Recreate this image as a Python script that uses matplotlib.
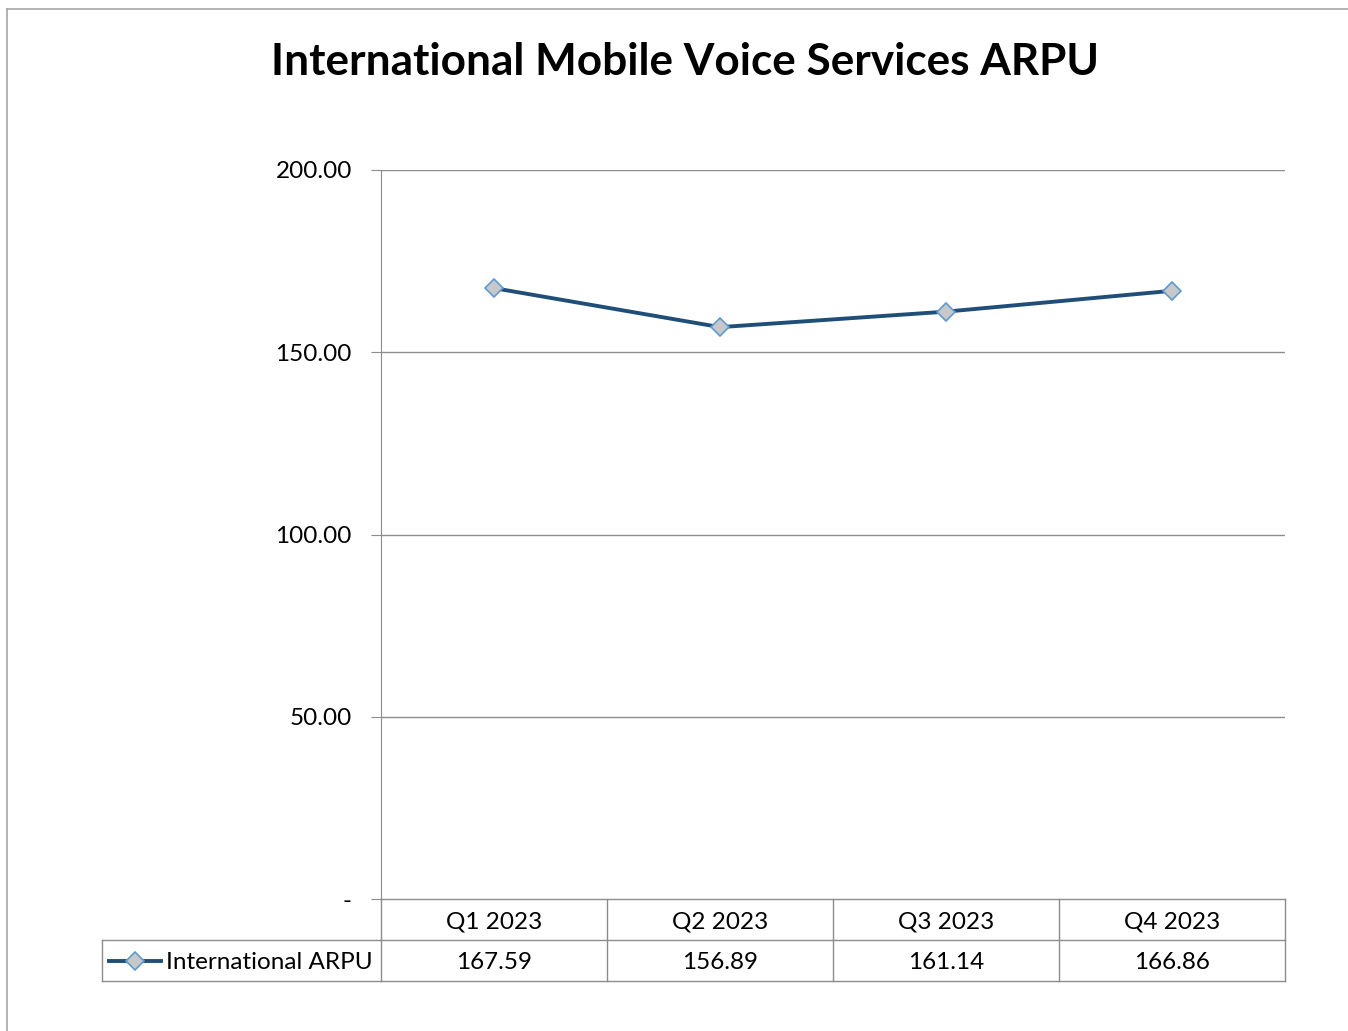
import matplotlib.pyplot as plt
from matplotlib.lines import Line2D

plt.rcParams['font.family'] = ['Lato', 'DejaVu Sans']

quarters = ['Q1 2023', 'Q2 2023', 'Q3 2023', 'Q4 2023']
arpu = [167.59, 156.89, 161.14, 166.86]
series_name = 'International ARPU'
y_ticks = [0, 50, 100, 150, 200]
y_labels = ['-', '50.00', '100.00', '150.00', '200.00']

W, H = 1348, 1031
fig = plt.figure(figsize=(W / 100, H / 100), dpi=100)

grid_col = '#8c8c8c'
line_col = '#1f4e79'
fs = 17.5

# outer chart border (top and left visible)
fig.add_artist(Line2D([7 / W, 7 / W], [0, 1 - 9 / H], color='#a6a6a6', lw=1.2, transform=fig.transFigure))
fig.add_artist(Line2D([7 / W, 1], [1 - 9 / H, 1 - 9 / H], color='#a6a6a6', lw=1.2, transform=fig.transFigure))

x0, x1, ytop, ybot = 381, 1285, 170, 899
ax = fig.add_axes([x0 / W, 1 - ybot / H, (x1 - x0) / W, (ybot - ytop) / H])

xs = list(range(len(quarters)))
ax.plot(xs, arpu, color=line_col, lw=2.8, marker='D', ms=9,
        mfc='#c8c8c8', mec='#5b9bd5', mew=1.2, zorder=3)

ax.set_xlim(-0.5, len(quarters) - 0.5)
ax.set_ylim(0, 200)
ax.set_yticks(y_ticks)
ax.set_yticklabels(y_labels, fontsize=fs)
ax.set_xticks([])
for t in y_ticks[1:]:
    ax.axhline(t, color=grid_col, lw=1, zorder=1)
for s in ['top', 'right', 'bottom']:
    ax.spines[s].set_visible(False)
ax.spines['left'].set_color(grid_col)
ax.tick_params(axis='y', length=7, color=grid_col, pad=14)

# data table under the plot
ph = ybot - ytop
row_h = 41 / ph
shift = 2 / ph  # nudge text slightly down in cells
tr = ax.get_xaxis_transform()
leg_left = (102 - x0) / (x1 - x0)
tra = ax.transAxes
kw = dict(color=grid_col, lw=1, clip_on=False)
n = len(quarters)
ax.plot([-0.5, n - 0.5], [0, 0], transform=tr, **kw)
ax.plot([-0.5, n - 0.5], [-row_h, -row_h], transform=tr, **kw)
ax.plot([-0.5, n - 0.5], [-2 * row_h, -2 * row_h], transform=tr, **kw)
ax.plot([leg_left, 0], [-row_h, -row_h], transform=tra, **kw)
ax.plot([leg_left, 0], [-2 * row_h, -2 * row_h], transform=tra, **kw)
ax.plot([leg_left, leg_left], [-row_h, -2 * row_h], transform=tra, **kw)
for k in range(n + 1):
    ax.plot([k - 0.5, k - 0.5], [0, -2 * row_h], transform=tr, **kw)

for i, (q, v) in enumerate(zip(quarters, arpu)):
    ax.text(i, -0.5 * row_h - shift, q, transform=tr, ha='center', va='center', fontsize=fs)
    ax.text(i, -1.5 * row_h - shift, f'{v:.2f}', transform=tr, ha='center', va='center', fontsize=fs)

# legend key in the table
ky = -1.5 * row_h
kx0 = (109 - x0) / (x1 - x0)
kx1 = (161 - x0) / (x1 - x0)
ax.plot([kx0, kx1], [ky, ky], transform=tra, color=line_col, lw=2.8, clip_on=False)
ax.plot([(kx0 + kx1) / 2], [ky], transform=tra, marker='D', ms=9,
        mfc='#c8c8c8', mec='#5b9bd5', mew=1.2, clip_on=False)
ax.text((166 - x0) / (x1 - x0), ky - shift, series_name, transform=tra,
        ha='left', va='center', fontsize=fs)

fig.text(685 / W, 1 - 62 / H, 'International Mobile Voice Services ARPU',
         ha='center', va='center', fontsize=31.8, fontweight='bold')

fig.savefig('out.png', dpi=100)
